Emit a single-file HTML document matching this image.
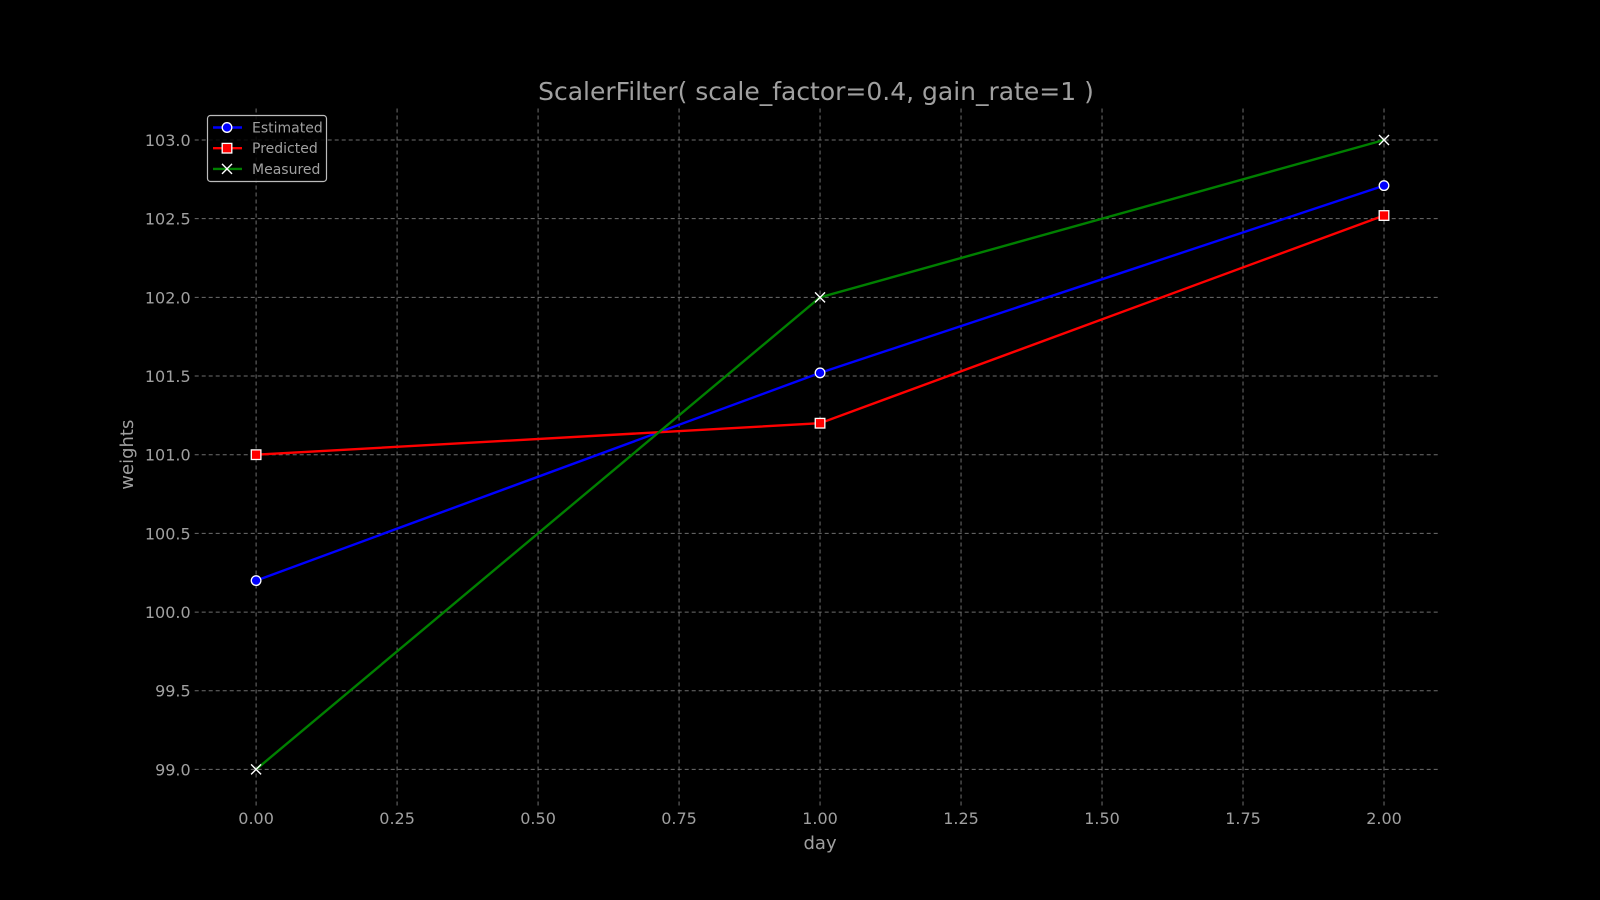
<!DOCTYPE html>
<html><head><meta charset="utf-8"><style>
body{margin:0;background:#000;}
svg{display:block;font-family:"DejaVu Sans","Liberation Sans",sans-serif;}
</style></head><body>
<svg id="chart" width="1600" height="900">
<rect width="1600" height="900" fill="#000"/>
</svg>
<script>
const days=[0,1,2];
const estimated=[100.2,101.52,102.71];
const predicted=[101.0,101.2,102.52];
const measured=[99.0,102.0,103.0];
const xTicks=[0,0.25,0.5,0.75,1.0,1.25,1.5,1.75,2.0];
const xTickLabels=["0.00","0.25","0.50","0.75","1.00","1.25","1.50","1.75","2.00"];
const yTicks=[99.0,99.5,100.0,100.5,101.0,101.5,102.0,102.5,103.0];
const yTickLabels=["99.0","99.5","100.0","100.5","101.0","101.5","102.0","102.5","103.0"];

const L=199.7,R=1440.4,T=108.5,B=800.9;
const xmin=-0.1,xmax=2.1,ymin=98.8,ymax=103.2;
const sx=v=>L+(v-xmin)/(xmax-xmin)*(R-L);
const sy=v=>B-(v-ymin)/(ymax-ymin)*(B-T);
const svg=document.getElementById('chart');
const NS='http://www.w3.org/2000/svg';
function mk(tag,attrs,parent){const e=document.createElementNS(NS,tag);for(const k in attrs)e.setAttribute(k,attrs[k]);(parent||svg).appendChild(e);return e;}
const gc='#6e6e6e',tc='#a0a0a0';
xTicks.forEach((v,i)=>{
  const g=mk('line',{x1:sx(v),x2:sx(v),y1:T,y2:B+5,stroke:gc,'stroke-width':1,'stroke-dasharray':'4,3'});
  
  
  const t=mk('text',{x:sx(v),y:B+23,fill:tc,'font-size':16,'text-anchor':'middle'});
  t.textContent=xTickLabels[i];
  
  
});
yTicks.forEach((v,i)=>{
  const g=mk('line',{x1:L-5,x2:R,y1:sy(v),y2:sy(v),stroke:gc,'stroke-width':1,'stroke-dasharray':'4,3'});
  
  
  const t=mk('text',{x:L-9,y:sy(v)+6,fill:tc,'font-size':16,'text-anchor':'end'});
  t.textContent=yTickLabels[i];
  
  
});
function series(vals,color,marker,name){
  const pts=days.map((d,i)=>sx(d)+','+sy(vals[i])).join(' ');
  const p=mk('polyline',{points:pts,fill:'none',stroke:color,'stroke-width':2.4});
  
  
  days.forEach((d,i)=>drawMarker(sx(d),sy(vals[i]),color,marker,name));
}
function drawMarker(x,y,color,marker,name){
  let m;
  if(marker==='o')m=mk('circle',{cx:x,cy:y,r:4.8,fill:color,stroke:'#fff','stroke-width':1.3});
  else if(marker==='s')m=mk('rect',{x:x-4.8,y:y-4.8,width:9.6,height:9.6,fill:color,stroke:'#fff','stroke-width':1.3});
  else m=mk('path',{d:`M${x-5},${y-5}L${x+5},${y+5}M${x-5},${y+5}L${x+5},${y-5}`,stroke:'#fff','stroke-width':1.4});
  
  
}
series(estimated,'#0000ff','o','estimated');
series(predicted,'#ff0000','s','predicted');
series(measured,'#008000','x','measured');

const title=mk('text',{x:816,y:100,fill:tc,'font-size':25,'text-anchor':'middle'});
title.textContent='ScalerFilter( scale_factor=0.4, gain_rate=1 )';


const xl=mk('text',{x:(L+R)/2,y:849,fill:tc,'font-size':18,'text-anchor':'middle'});
xl.textContent='day';


const yl=mk('text',{x:0,y:0,fill:tc,'font-size':18,'text-anchor':'middle',transform:`translate(133,${(T+B)/2}) rotate(-90)`});
yl.textContent='weights';



const lg=mk('g',{});


mk('rect',{x:207.5,y:115.5,width:119,height:66,rx:3,fill:'#000','fill-opacity':0.85,stroke:'#bbb','stroke-width':1.2},lg);
const names=['Estimated','Predicted','Measured'],cols=['#0000ff','#ff0000','#008000'],mks=['o','s','x'];
names.forEach((n,i)=>{
  const y=127.5+i*20.7;
  const l=mk('line',{x1:213,x2:242,y1:y,y2:y,stroke:cols[i],'stroke-width':2.4},lg);
  
  
  drawMarker(227,y,cols[i],mks[i],'legend-'+n.toLowerCase());
  const t=mk('text',{x:252,y:y+5,fill:tc,'font-size':14},lg);
  t.textContent=n;
  
  
});
</script>
</body></html>
